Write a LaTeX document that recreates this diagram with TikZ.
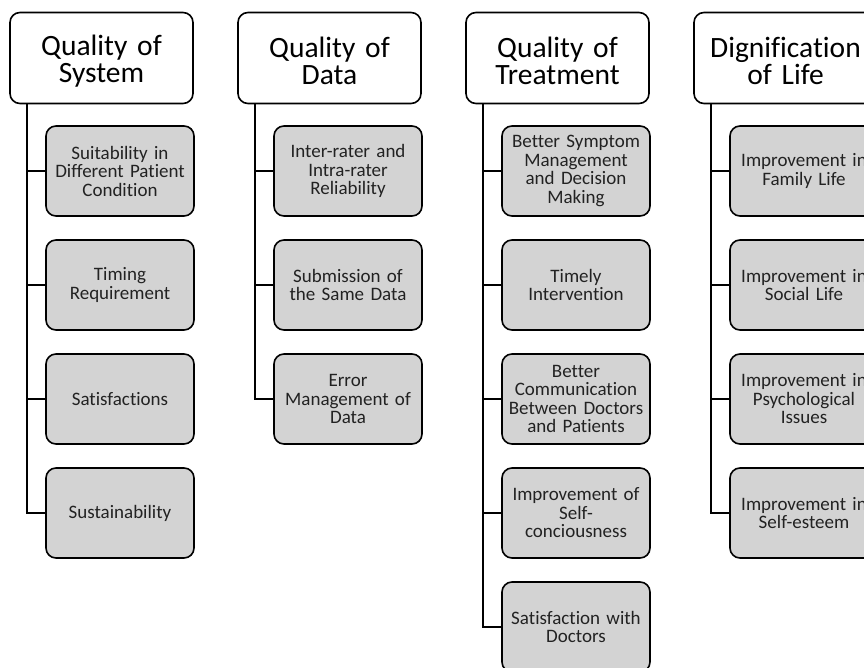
\documentclass[tikz,border=0pt]{standalone}
\usepackage{fontspec}
\setmainfont[Ligatures=NoCommon]{Carlito}
\definecolor{boxgray}{RGB}{211,211,211}
\definecolor{txtgray}{RGB}{34,34,34}
\newcommand{\hstrut}{\rule{0pt}{27pt}}
\begin{document}
\begin{tikzpicture}[x=1pt,y=-1pt,
  head/.style={draw, line width=1.6pt, rounded corners=10pt, fill=white,
    minimum width=183pt, minimum height=91pt, text width=177pt, inner sep=3pt,
    align=center, font=\fontsize{29.5}{27}\selectfont},
  child/.style={draw, line width=1.6pt, rounded corners=10pt, fill=boxgray,
    minimum width=148pt, minimum height=90pt, text width=146pt, inner sep=1pt,
    align=center, text=txtgray, font=\fontsize{19}{18.5}\selectfont},
  link/.style={line width=1.6pt}]
\useasboundingbox (0,0) rectangle (864,668);
\clip (0,0) rectangle (864,668);

% Column 1
\node[head] (h1) at (101.5,58) {\hstrut Quality of\\System};
\node[child] (c11) at (120,171) {Suitability in\\Different Patient\\Condition};
\node[child] (c12) at (120,285) {Timing\\Requirement};
\node[child] (c13) at (120,399) {Satisfactions};
\node[child] (c14) at (120,513) {Sustainability};

% Column 2
\node[head] (h2) at (329.5,58) {\hstrut Quality of\\Data};
\node[child] (c21) at (348,171) {Inter-rater and\\Intra-rater\\Reliability};
\node[child] (c22) at (348,285) {Submission of\\the Same Data};
\node[child] (c23) at (348,399) {Error\\Management of\\Data};

% Column 3
\node[head] (h3) at (557.5,58) {\hstrut Quality of\\Treatment};
\node[child] (c31) at (576,171) {Better Symptom\\Management\\and Decision\\Making};
\node[child] (c32) at (576,285) {Timely\\Intervention};
\node[child] (c33) at (576,399) {Better\\Communication\\Between Doctors\\and Patients};
\node[child] (c34) at (576,513) {Improvement of\\Self-\\conciousness};
\node[child] (c35) at (576,627) {Satisfaction with\\Doctors};

% Column 4
\node[head] (h4) at (785.5,58) {\hstrut Dignification\\of Life};
\node[child] (c41) at (804,171) {Improvement in\\Family Life};
\node[child] (c42) at (804,285) {Improvement in\\Social Life};
\node[child] (c43) at (804,399) {Improvement in\\Psychological\\Issues};
\node[child] (c44) at (804,513) {Improvement in\\Self-esteem};

% Connectors
\foreach \c in {c11,c12,c13,c14}
  \draw[link] ([xshift=18pt]h1.south west) |- (\c.west);
\foreach \c in {c21,c22,c23}
  \draw[link] ([xshift=18pt]h2.south west) |- (\c.west);
\foreach \c in {c31,c32,c33,c34,c35}
  \draw[link] ([xshift=18pt]h3.south west) |- (\c.west);
\foreach \c in {c41,c42,c43,c44}
  \draw[link] ([xshift=18pt]h4.south west) |- (\c.west);
\end{tikzpicture}
\end{document}
